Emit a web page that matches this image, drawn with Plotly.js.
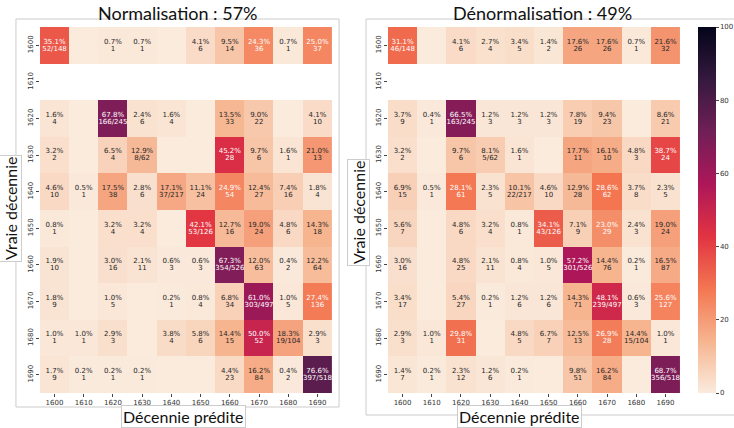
<!DOCTYPE html>
<html><head><meta charset="utf-8">
<script src="https://cdn.plot.ly/plotly-3.0.1.min.js"></script>
<style>html,body{margin:0;padding:0;background:#fff}#chart{width:734px;height:428px}</style>
</head><body><div id="chart"></div>
<script>
const decades = [1600,1610,1620,1630,1640,1650,1660,1670,1680,1690];
const rowTotals = [148,null,245,62,217,126,526,497,104,518];

const normPct = [
  [35.1,0,0.7,0.7,0,4.1,9.5,24.3,0.7,25.0],
  [null,null,null,null,null,null,null,null,null,null],
  [1.6,0,67.8,2.4,1.6,0,13.5,9.0,0,4.1],
  [3.2,0,6.5,12.9,0,0,45.2,9.7,1.6,21.0],
  [4.6,0.5,17.5,2.8,17.1,11.1,24.9,12.4,7.4,1.8],
  [0.8,0,3.2,3.2,0,42.1,12.7,19.0,4.8,14.3],
  [1.9,0,3.0,2.1,0.6,0.6,67.3,12.0,0.4,12.2],
  [1.8,0,1.0,0,0.2,0.8,6.8,61.0,1.0,27.4],
  [1.0,1.0,2.9,0,3.8,5.8,14.4,50.0,18.3,2.9],
  [1.7,0.2,0.2,0.2,0,0,4.4,16.2,0.4,76.6]
];
const normCount = [
  [52,0,1,1,0,6,14,36,1,37],
  [null,null,null,null,null,null,null,null,null,null],
  [4,0,166,6,4,0,33,22,0,10],
  [2,0,4,8,0,0,28,6,1,13],
  [10,1,38,6,37,24,54,27,16,4],
  [1,0,4,4,0,53,16,24,6,18],
  [10,0,16,11,3,3,354,63,2,64],
  [9,0,5,0,1,4,34,303,5,136],
  [1,1,3,0,4,6,15,52,19,3],
  [9,1,1,1,0,0,23,84,2,397]
];
const denormPct = [
  [31.1,0,4.1,2.7,3.4,1.4,17.6,17.6,0.7,21.6],
  [null,null,null,null,null,null,null,null,null,null],
  [3.7,0.4,66.5,1.2,1.2,1.2,7.8,9.4,0,8.6],
  [3.2,0,9.7,8.1,1.6,0,17.7,16.1,4.8,38.7],
  [6.9,0.5,28.1,2.3,10.1,4.6,12.9,28.6,3.7,2.3],
  [5.6,0,4.8,3.2,0.8,34.1,7.1,23.0,2.4,19.0],
  [3.0,0,4.8,2.1,0.8,1.0,57.2,14.4,0.2,16.5],
  [3.4,0,5.4,0.2,1.2,1.2,14.3,48.1,0.6,25.6],
  [2.9,1.0,29.8,0,4.8,6.7,12.5,26.9,14.4,1.0],
  [1.4,0.2,2.3,1.2,0.2,0,9.8,16.2,0,68.7]
];
const denormCount = [
  [46,0,6,4,5,2,26,26,1,32],
  [null,null,null,null,null,null,null,null,null,null],
  [9,1,163,3,3,3,19,23,0,21],
  [2,0,6,5,1,0,11,10,3,24],
  [15,1,61,5,22,10,28,62,8,5],
  [7,0,6,4,1,43,9,29,3,24],
  [16,0,25,11,4,5,301,76,1,87],
  [17,0,27,1,6,6,71,239,3,127],
  [3,1,31,0,5,7,13,28,15,1],
  [7,1,12,6,1,0,51,84,0,356]
];
const titles = ["Normalisation : 57%", "Dénormalisation : 49%"];
const xLabel = "Décennie prédite";
const yLabel = "Vraie décennie";

const rocketR = [
  [0.0,'#faebdd'],[0.143,'#f6b48f'],[0.286,'#f37651'],[0.429,'#e13342'],
  [0.571,'#ad1759'],[0.714,'#701f57'],[0.857,'#35193e'],[1.0,'#03051a']
];

function textTraces(pct, cnt, xa, ya){
  const xs=[], y1=[], y2=[], t1=[], t2=[], col=[];
  for(let i=0;i<decades.length;i++){
    for(let j=0;j<decades.length;j++){
      const p=pct[i][j], c=cnt[i][j];
      if(p===null || !c) continue;
      xs.push(decades[j]);
      y1.push(decades[i]-0.95);
      y2.push(decades[i]+0.95);
      t1.push(p.toFixed(1)+'%');
      t2.push(i===j ? c+'/'+rowTotals[i] : String(c));
      col.push(p>22.5 ? '#ffffff' : '#262626');
    }
  }
  const base = {type:'scatter', mode:'text', x:xs, xaxis:xa, yaxis:ya, hoverinfo:'skip', showlegend:false,
    textposition:'middle center'};
  return [
    Object.assign({}, base, {y:y1, text:t1, textfont:{family:'DejaVu Sans', size:7, color:col}}),
    Object.assign({}, base, {y:y2, text:t2, textfont:{family:'DejaVu Sans', size:7, color:col}})
  ];
}

const data = [
  {type:'heatmap', x:decades, y:decades, z:normPct, coloraxis:'coloraxis', xaxis:'x', yaxis:'y', hoverongaps:false},
  {type:'heatmap', x:decades, y:decades, z:denormPct, coloraxis:'coloraxis', xaxis:'x2', yaxis:'y2', hoverongaps:false},
  ...textTraces(normPct, normCount, 'x', 'y'),
  ...textTraces(denormPct, denormCount, 'x2', 'y2')
];

const W=734, H=428;
const px = v => v/W, py = v => 1 - v/H;
const axisCommon = {showgrid:false, zeroline:false, showline:false, ticks:'outside', ticklen:3, tickcolor:'#444',
  tickfont:{family:'DejaVu Sans', size:7, color:'#333'}, tickvals:decades, ticktext:decades.map(String)};
const xr=[1595,1695], yr=[1695,1595];

const layout = {
  width:W, height:H, margin:{l:0,r:0,t:0,b:0}, paper_bgcolor:'#fff', plot_bgcolor:'#fff',
  showlegend:false,
  coloraxis:{cmin:0, cmax:100, colorscale:rocketR,
    colorbar:{x:px(700), xanchor:'left', thickness:18, len:py(27)-py(393), lenmode:'fraction',
      y:py(393), yanchor:'bottom', outlinewidth:0, ticks:'outside', ticklen:3, tickcolor:'#444',
      tickvals:[0,20,40,60,80,100], tickfont:{family:'DejaVu Sans', size:7, color:'#333'}, xpad:0, ypad:0}},
  xaxis: Object.assign({}, axisCommon, {domain:[px(40),px(333)], range:xr, anchor:'y'}),
  yaxis: Object.assign({}, axisCommon, {domain:[py(393),py(27)], range:yr, anchor:'x', tickangle:-90}),
  xaxis2: Object.assign({}, axisCommon, {domain:[px(389),px(682)], range:xr, anchor:'y2'}),
  yaxis2: Object.assign({}, axisCommon, {domain:[py(393),py(27)], range:yr, anchor:'x2', tickangle:-90}),
  shapes:[
    {type:'rect', xref:'paper', yref:'paper', x0:px(16), x1:px(340), y0:py(407), y1:py(19), line:{color:'#cccccc', width:1}, layer:'below'},
    {type:'rect', xref:'paper', yref:'paper', x0:px(367), x1:1.1, y0:py(415), y1:py(19), line:{color:'#cccccc', width:1}, layer:'below'}
  ],
  annotations:[
    {text:titles[0], xref:'paper', yref:'paper', x:px(178), y:py(13), showarrow:false, xanchor:'center', yanchor:'middle',
      font:{family:'Lato', size:18, color:'#111'}},
    {text:titles[1], xref:'paper', yref:'paper', x:px(544), y:py(13), showarrow:false, xanchor:'center', yanchor:'middle',
      font:{family:'Lato', size:18, color:'#111'}},
    {text:yLabel, xref:'paper', yref:'paper', x:px(10), y:py(208), showarrow:false, textangle:-90, xanchor:'center', yanchor:'middle',
      font:{family:'Lato', size:16, color:'#111'}, bgcolor:'#fff', bordercolor:'#cccccc', borderwidth:1, borderpad:1},
    {text:yLabel, xref:'paper', yref:'paper', x:px(359), y:py(213), showarrow:false, textangle:-90, xanchor:'center', yanchor:'middle',
      font:{family:'Lato', size:16, color:'#111'}, bgcolor:'#fff', bordercolor:'#cccccc', borderwidth:1, borderpad:1},
    {text:xLabel, xref:'paper', yref:'paper', x:px(184), y:py(416), showarrow:false, xanchor:'center', yanchor:'middle',
      font:{family:'Lato', size:16, color:'#111'}, bgcolor:'#fff', bordercolor:'#cccccc', borderwidth:1, borderpad:1},
    {text:xLabel, xref:'paper', yref:'paper', x:px(521), y:py(416), showarrow:false, xanchor:'center', yanchor:'middle',
      font:{family:'Lato', size:16, color:'#111'}, bgcolor:'#fff', bordercolor:'#cccccc', borderwidth:1, borderpad:1}
  ]
};

Plotly.newPlot('chart', data, layout, {displayModeBar:false, responsive:false});
</script></body></html>
